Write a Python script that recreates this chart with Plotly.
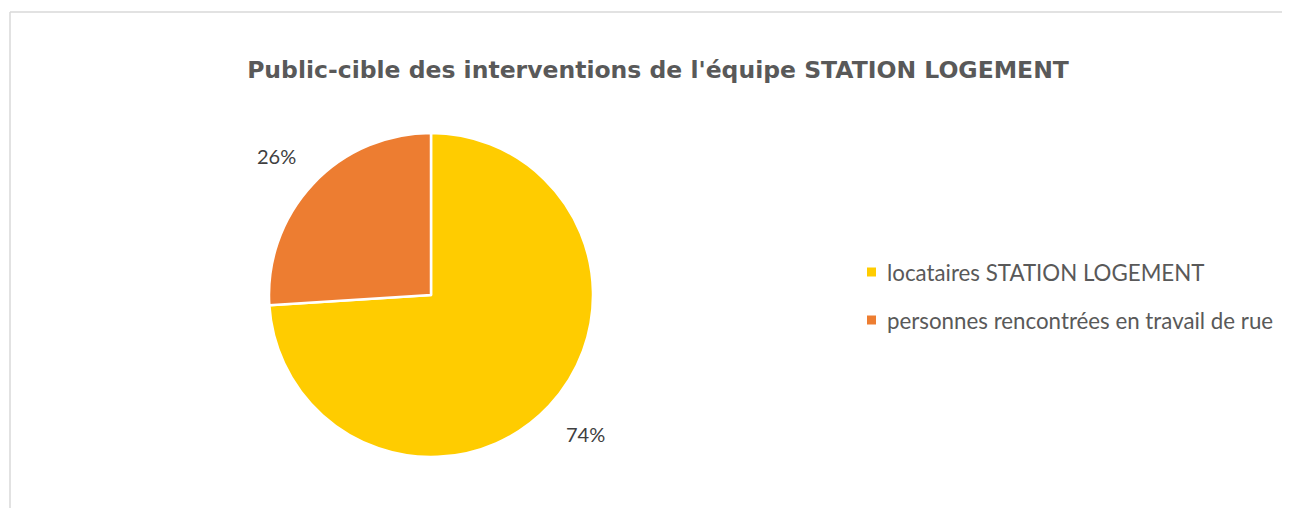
import math
import plotly.graph_objects as go

# ---- data ----
categories = ["locataires STATION LOGEMENT", "personnes rencontrées en travail de rue"]
values = [74, 26]
colors = ["#FFCC00", "#ED7D31"]
title_text = "Public-cible des interventions de l'équipe STATION LOGEMENT"

W, H = 1290, 508
FONT = "Lato"
TITLE_FONT = "DejaVu Sans"

# pie geometry (pixels, figure coordinates)
cx_px, cy_px, R = 423, 287, 162
dom_x = [(cx_px - R) / W, (cx_px + R) / W]
dom_y = [(H - cy_px - R) / H, (H - cy_px + R) / H]

fig = go.Figure()
fig.add_trace(go.Pie(
    labels=categories,
    values=values,
    marker=dict(colors=colors, line=dict(color="white", width=2.5)),
    sort=False,
    direction="clockwise",
    rotation=0,
    textinfo="none",
    hoverinfo="label+percent",
    showlegend=False,
    domain=dict(x=dom_x, y=dom_y),
))

annotations = []
shapes = []
# outside percentage labels, anchored by their nearest corner on a circle
total = sum(values)
cum = 0.0
for v in values:
    mid = (cum + v / 2) / total * 2 * math.pi
    cum += v
    d = R + 22
    sx, sy = math.sin(mid), math.cos(mid)
    x = (cx_px + d * sx) / W
    y = (H - cy_px + d * sy) / H
    annotations.append(dict(
        x=x, y=y, xref="paper", yref="paper", showarrow=False,
        text=f"{round(v / total * 100)}%",
        font=dict(family=FONT, size=20, color="#404040"),
        xanchor="left" if sx > 0 else "right",
        yanchor="bottom" if sy > 0 else "top",
        borderpad=0,
    ))

# custom legend
sq_x, txt_x, leg_y0, leg_gap, sq = 859, 877, 264, 48, 9
for i, (lab, col) in enumerate(zip(categories, colors)):
    yc = leg_y0 + i * leg_gap
    shapes.append(dict(
        type="rect", xref="paper", yref="paper",
        x0=sq_x / W, x1=(sq_x + sq) / W,
        y0=(H - yc - sq / 2) / H, y1=(H - yc + sq / 2) / H,
        fillcolor=col, line=dict(width=0),
    ))
    annotations.append(dict(
        x=txt_x / W, y=(H - yc) / H,
        xref="paper", yref="paper", showarrow=False,
        xanchor="left", yanchor="middle",
        text=lab,
        font=dict(family=FONT, size=22.3, color="#595959"),
    ))

shapes += [
    dict(type="line", xref="paper", yref="paper",
         x0=2 / W, x1=1, y0=1 - 4 / H, y1=1 - 4 / H,
         line=dict(color="#D9D9D9", width=1.5)),
    dict(type="line", xref="paper", yref="paper",
         x0=2 / W, x1=2 / W, y0=0, y1=1 - 4 / H,
         line=dict(color="#D9D9D9", width=1.5)),
]

fig.update_layout(
    width=W, height=H,
    margin=dict(l=0, r=0, t=0, b=0),
    paper_bgcolor="white",
    plot_bgcolor="white",
    title=dict(
        text=f"<b>{title_text}</b>",
        x=650 / W, xanchor="center",
        y=1 - 62 / H, yanchor="middle",
        font=dict(family=TITLE_FONT, size=23.5, color="#595959"),
    ),
    annotations=annotations,
    shapes=shapes,
)

fig.write_html("out.html")
